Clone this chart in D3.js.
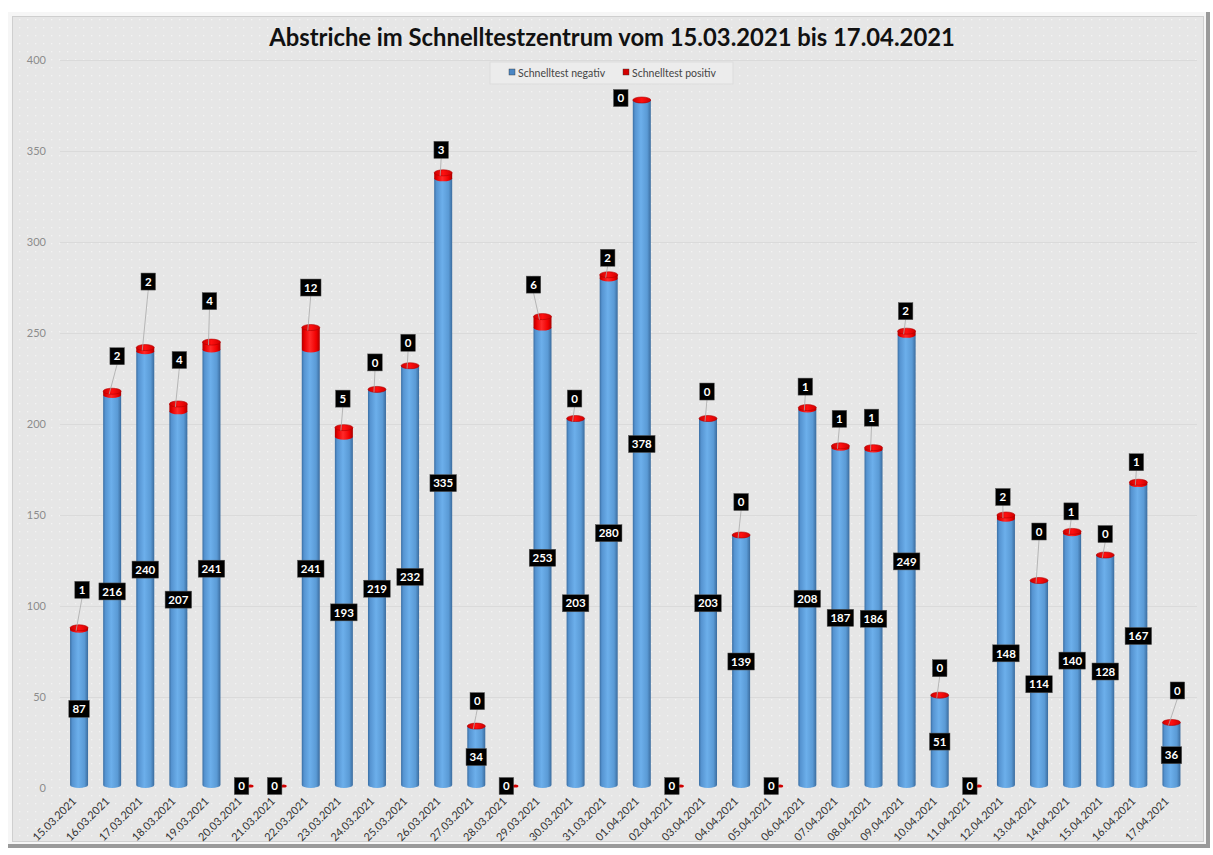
<!DOCTYPE html>
<html lang="de">
<head>
  <meta charset="utf-8">
  <title>Abstriche im Schnelltestzentrum</title>
  <script src="https://d3js.org/d3.v7.min.js"></script>
  <style>
    body { margin: 0; background: #fff; }
    text { font-family: Lato, "Open Sans", sans-serif; }
  </style>
</head>
<body>
  <script>
    // Daten
    var dates = ['15.03.2021','16.03.2021','17.03.2021','18.03.2021','19.03.2021','20.03.2021','21.03.2021',
      '22.03.2021','23.03.2021','24.03.2021','25.03.2021','26.03.2021','27.03.2021','28.03.2021',
      '29.03.2021','30.03.2021','31.03.2021','01.04.2021','02.04.2021','03.04.2021','04.04.2021',
      '05.04.2021','06.04.2021','07.04.2021','08.04.2021','09.04.2021','10.04.2021','11.04.2021',
      '12.04.2021','13.04.2021','14.04.2021','15.04.2021','16.04.2021','17.04.2021'];
    var negativ = [87,216,240,207,241,0,0,241,193,219,232,335,34,0,253,203,280,378,0,203,139,0,208,187,186,249,51,0,148,114,140,128,167,36];
    var positiv = [1,2,2,4,4,0,0,12,5,0,0,3,0,0,6,0,2,0,0,0,0,0,1,1,1,2,0,0,2,0,1,0,1,0];
    var yTicks = [0,50,100,150,200,250,300,350,400];
    var seriesNames = ['Schnelltest negativ', 'Schnelltest positiv'];

    // Position der Beschriftungen (von Hand verschoben wie im Original)
    var posLabelDy = [-38,-35,-66,-44,-41,0,0,-40,-29,-27,-23,-23,-25,0,-32,-20,-17,-2,0,-27,-33,0,-21,-27,-30,-20,-27,0,-18,-49,-20,-21,-20,-32];
    var posLabelDx = [3,5,3,1,-2,0,0,0,-1,-2,-2,-2,1,0,-9,-1,-1,-21,0,-1,0,0,-2,-1,-2,-1,0,0,-3,0,-1,0,-2,6];

    var W = 1213, H = 855;
    var svg = d3.select('body').append('svg').attr('width', W).attr('height', H);
    var defs = svg.append('defs');

    // Hintergrund-Muster (Punkte)
    var pat = defs.append('pattern').attr('id', 'dots').attr('width', 8).attr('height', 8)
      .attr('patternUnits', 'userSpaceOnUse');
    pat.append('rect').attr('width', 8).attr('height', 8).attr('fill', '#e6e6e6');
    pat.append('rect').attr('x', 3).attr('y', 3).attr('width', 1.3).attr('height', 1.3).attr('fill', '#f3f3f3');

    function hGrad(id, stops) {
      var g = defs.append('linearGradient').attr('id', id).attr('x1', 0).attr('x2', 1).attr('y1', 0).attr('y2', 0);
      stops.forEach(function(s){ g.append('stop').attr('offset', s[0]).attr('stop-color', s[1]); });
    }
    hGrad('blueCyl', [[0,'#3a6ea3'],[0.12,'#5593d0'],[0.45,'#6cafeb'],[0.8,'#5a9ad5'],[1,'#3b6c9e']]);
    hGrad('redCyl', [[0,'#b00000'],[0.15,'#e80000'],[0.45,'#ff2a2a'],[0.8,'#f00000'],[1,'#a80000']]);
    hGrad('redTop', [[0,'#d00000'],[0.5,'#ff1010'],[1,'#d00000']]);

    // Rahmen mit Fase
    svg.append('rect').attr('x', 8).attr('y', 12).attr('width', 1202).attr('height', 836).attr('fill', '#9a9a9a');
    svg.append('rect').attr('x', 8).attr('y', 12).attr('width', 1198).attr('height', 832).attr('fill', '#f6f6f6');
    svg.append('rect').attr('x', 12).attr('y', 16).attr('width', 1192).attr('height', 826).attr('fill', '#cfcfcf');
    svg.append('rect').attr('x', 13).attr('y', 17).attr('width', 1190).attr('height', 824).attr('fill', 'url(#dots)');

    var x = d3.scaleBand().domain(dates).range([62.5, 1188]).padding(0);
    var y = d3.scaleLinear().domain([0, 400]).range([788, 60]);
    var bw = 18, rx = bw / 2, ry = 3;

    // Gitterlinien
    svg.selectAll('.grid').data(yTicks.filter(function(d){ return d > 0; }))
      .enter().append('line')
      .attr('x1', 60).attr('x2', 1197)
      .attr('y1', function(d){ return y(d) + 0.5; }).attr('y2', function(d){ return y(d) + 0.5; })
      .attr('stroke', '#dadada').attr('stroke-width', 1);

    // Y-Achse
    svg.selectAll('.ytick').data(yTicks).enter().append('text')
      .attr('x', 46).attr('y', function(d){ return y(d) + 4; })
      .attr('text-anchor', 'end').attr('font-size', 11).attr('fill', '#8c8c8c')
      .text(function(d){ return d; });

    // X-Achse
    svg.selectAll('.xtick').data(dates).enter().append('text')
      .attr('transform', function(d){ return 'translate(' + (x(d) + x.bandwidth()/2 - 2) + ',802) rotate(-45)'; })
      .attr('text-anchor', 'end').attr('font-size', 11).attr('fill', '#333')
      .text(function(d){ return d; });

    function cylPath(cx, yTop, yBot) {
      return 'M' + (cx - rx) + ',' + yTop + 'L' + (cx - rx) + ',' + yBot +
        'A' + rx + ',' + ry + ' 0 0 0 ' + (cx + rx) + ',' + yBot +
        'L' + (cx + rx) + ',' + yTop + 'Z';
    }

    var rows = dates.map(function(d, i){ return { date: d, neg: negativ[i], pos: positiv[i], i: i }; });

    var bars = svg.selectAll('.bar').data(rows).enter().append('g').attr('class', 'bar');
    bars.each(function(d){
      var g = d3.select(this);
      var cx = x(d.date) + x.bandwidth() / 2;
      var y0 = y(0) - ry, yN = y(d.neg), yP = y(d.neg + d.pos);
      if (d.neg === 0 && d.pos === 0) {
        // nur winzige Markierung an der Basis
        g.append('ellipse').attr('cx', cx + 6).attr('cy', y0 + 1).attr('rx', 3).attr('ry', 1.6).attr('fill', '#d00000');
        return;
      }
      g.append('path').attr('d', cylPath(cx, yN, y0)).attr('fill', 'url(#blueCyl)');
      if (d.pos > 0) {
        g.append('path').attr('d', cylPath(cx, yP, yN)).attr('fill', 'url(#redCyl)');
      }
      g.append('ellipse').attr('cx', cx).attr('cy', yP).attr('rx', rx).attr('ry', ry)
        .attr('fill', 'url(#redTop)').attr('stroke', '#b00000').attr('stroke-width', 0.6);
    });

    function labelBox(g, cx, cy, txt) {
      var w = txt.length * 6 + 8.5, h = 17;
      g.append('rect').attr('x', cx - w/2).attr('y', cy - h/2).attr('width', w).attr('height', h)
        .attr('fill', '#000').attr('stroke', '#555').attr('stroke-width', 0.5);
      g.append('text').attr('x', cx).attr('y', cy + 4.2).attr('text-anchor', 'middle')
        .attr('font-size', 11.5).attr('font-weight', 'bold').attr('fill', '#fff').text(txt);
    }

    var labels = svg.append('g');
    rows.forEach(function(d){
      var cx = x(d.date) + x.bandwidth() / 2;
      if (d.neg === 0 && d.pos === 0) {
        labelBox(labels, cx - 3, y(0) - 2, '0');
        return;
      }
      // Beschriftung negativ (Mitte)
      labelBox(labels, cx, y(d.neg / 2), String(d.neg));
      // Beschriftung positiv mit Führungslinie
      var top = y(d.neg + d.pos);
      var lx = cx + posLabelDx[d.i], ly = top + posLabelDy[d.i];
      if (Math.abs(posLabelDy[d.i]) > 12) {
        labels.append('line').attr('x1', lx).attr('y1', ly + 8).attr('x2', cx - 3).attr('y2', top + 3)
          .attr('stroke', '#a8a8a8').attr('stroke-width', 0.8);
      }
      labelBox(labels, lx, ly, String(d.pos));
    });

    // Legende
    var leg = svg.append('g');
    leg.append('rect').attr('x', 490).attr('y', 62).attr('width', 243).attr('height', 22)
      .attr('fill', '#ececec').attr('stroke', '#dadada').attr('stroke-width', 0.8);
    var legColors = ['#4a86c4', '#d40000'];
    var legX = [509, 623];
    seriesNames.forEach(function(n, i){
      leg.append('rect').attr('x', legX[i]).attr('y', 69).attr('width', 6).attr('height', 6)
        .attr('fill', legColors[i]).attr('stroke', '#333').attr('stroke-width', 0.4);
      leg.append('text').attr('x', legX[i] + 9).attr('y', 76.5).attr('font-size', 10.5).attr('fill', '#444').text(n);
    });

    // Titel
    var title = svg.append('text').attr('x', 612).attr('y', 46).attr('text-anchor', 'middle')
      .attr('font-size', 23).attr('font-weight', 'bold').attr('fill', '#111')
      .text('Abstriche im Schnelltestzentrum vom 15.03.2021 bis 17.04.2021');
    var tl = title.node().getComputedTextLength();
    title.attr('font-size', 23 * 686 / tl);
  </script>
</body>
</html>
